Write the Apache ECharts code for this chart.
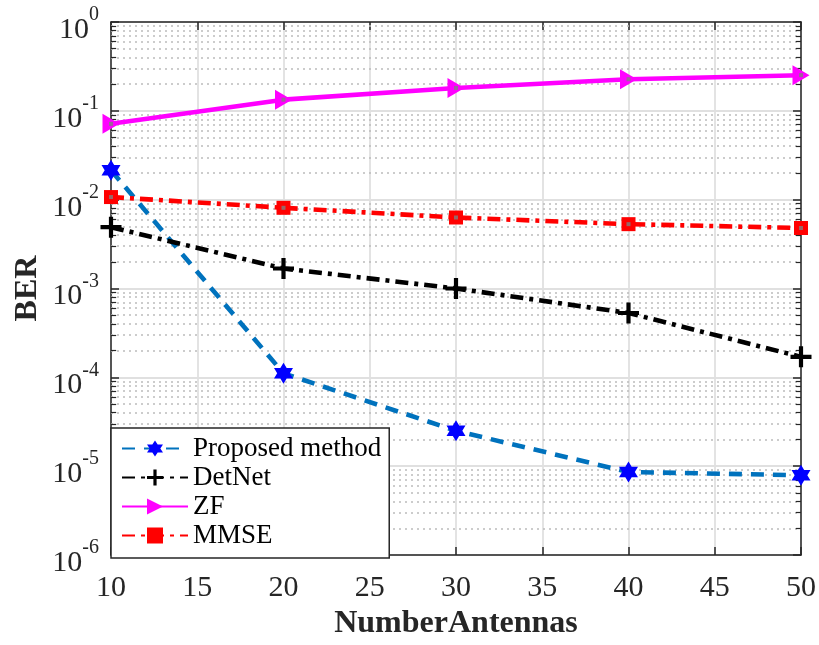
<!DOCTYPE html>
<html>
<head>
<meta charset="utf-8">
<script src="https://cdn.jsdelivr.net/npm/echarts@6/dist/echarts.min.js"></script>
<style>html,body{margin:0;padding:0;background:#fff}#c{width:819px;height:645px}</style>
</head>
<body>
<div id="c"></div>
<script>
const xValues = [10, 20, 30, 40, 50];
const proposed = [0.0214, 1.11e-4, 2.5e-5, 8.6e-6, 7.9e-6];
const detnet = [0.0049, 0.00168, 0.0010, 0.00053, 0.00017];
const zf = [0.0714, 0.1336, 0.181, 0.227, 0.252];
const mmse = [0.0107, 0.0081, 0.0063, 0.0053, 0.0048];
const seriesNames = ['Proposed method', 'DetNet', 'ZF', 'MMSE'];

const FONT = '"Liberation Serif", "Times New Roman", serif';
const AX = '#262626';

function pairs(ys) { return xValues.map((x, i) => [x, ys[i]]); }

// minor grid positions (2..9 x decade)
const minorVals = [];
for (let e = -6; e < 0; e++) for (let m = 2; m <= 9; m++) minorVals.push(m * Math.pow(10, e));

const minorGridLines = minorVals.map(v => [{coord: [10, v]}, {coord: [50, v]}]);
const minorTickLines = [];
minorVals.forEach(v => {
  minorTickLines.push([{coord: [10, v]}, {coord: [10.3, v]}]);
  minorTickLines.push([{coord: [49.7, v]}, {coord: [50, v]}]);
});

const star = 'path://M0,-10 L2.887,-5 L8.66,-5 L5.774,0 L8.66,5 L2.887,5 L0,10 L-2.887,5 L-8.66,5 L-5.774,0 L-8.66,-5 L-2.887,-5 Z';
const plus = 'path://M-1.6,-8 H1.6 V-1.6 H8 V1.6 H1.6 V8 H-1.6 V1.6 H-8 V-1.6 H-1.6 Z';
const triR = 'path://M0,0 L10,5 L0,10 Z';

const chart = echarts.init(document.getElementById('c'), null, {renderer: 'canvas'});

const yLabel = {
  show: true,
  fontFamily: FONT,
  color: AX,
  margin: 12,
  formatter: function (v) {
    const e = Math.round(Math.log10(v));
    return '{b|10}{s|' + e + '}';
  },
  rich: {
    b: {fontSize: 30, fontFamily: FONT, color: AX, padding: [16, 0, 0, 0]},
    s: {fontSize: 20, fontFamily: FONT, color: AX, padding: [0, 0, 14, 0]}
  }
};

const LW = 4.6;

chart.setOption({
  animation: false,
  backgroundColor: '#fff',
  grid: {left: 111, right: 18, top: 22, bottom: 88, containLabel: false},
  legend: {
    data: seriesNames,
    orient: 'vertical',
    left: 111,
    top: 428,
    z: 20,
    padding: [7, 8, 9, 10],
    itemGap: 2,
    itemWidth: 66,
    itemHeight: 20,
    backgroundColor: '#fff',
    borderColor: AX,
    borderWidth: 1.5,
    textStyle: {fontFamily: FONT, fontSize: 27, color: '#000', padding: [0, 0, 0, 0]}
  },
  xAxis: [{
    type: 'value', min: 10, max: 50, interval: 5,
    position: 'bottom',
    name: 'NumberAntennas', nameLocation: 'middle', nameGap: 53, nameMoveOverlap: false,
    nameTextStyle: {fontFamily: FONT, fontSize: 32, fontWeight: 'bold', color: AX},
    axisLine: {show: true, lineStyle: {color: AX, width: 1.5}},
    axisTick: {show: true, inside: true, length: 8, lineStyle: {color: AX, width: 1.5}},
    axisLabel: {fontFamily: FONT, fontSize: 30, color: AX, margin: 18},
    splitLine: {show: true, lineStyle: {color: '#e0e0e0', width: 1.8}}
  }, {
    type: 'value', min: 10, max: 50, interval: 5,
    position: 'top',
    axisLine: {show: true, lineStyle: {color: AX, width: 1.5}},
    axisTick: {show: true, inside: true, length: 8, lineStyle: {color: AX, width: 1.5}},
    axisLabel: {show: false},
    splitLine: {show: false}
  }],
  yAxis: [{
    type: 'log', logBase: 10, min: 1e-6, max: 1,
    position: 'left',
    name: 'BER', nameLocation: 'middle', nameGap: 67, nameMoveOverlap: false,
    nameTextStyle: {fontFamily: FONT, fontSize: 32, fontWeight: 'bold', color: AX},
    axisLine: {show: true, lineStyle: {color: AX, width: 1.5}},
    axisTick: {show: true, inside: true, length: 8, lineStyle: {color: AX, width: 1.5}},
    axisLabel: yLabel,
    splitLine: {show: true, lineStyle: {color: '#e0e0e0', width: 1.8}}
  }, {
    type: 'log', logBase: 10, min: 1e-6, max: 1,
    position: 'right',
    axisLine: {show: true, lineStyle: {color: AX, width: 1.5}},
    axisTick: {show: true, inside: true, length: 8, lineStyle: {color: AX, width: 1.5}},
    axisLabel: {show: false},
    splitLine: {show: false}
  }],
  series: [
    {
      name: 'minorGrid', type: 'line', data: [], z: 1, silent: true,
      markLine: {
        silent: true, symbol: 'none', animation: false, z: 1,
        label: {show: false},
        lineStyle: {color: '#bcbcbc', type: [2, 4], width: 1.6},
        data: minorGridLines
      }
    },
    {
      name: 'minorTicks', type: 'line', data: [], z: 1, silent: true,
      markLine: {
        silent: true, symbol: 'none', animation: false, z: 1,
        label: {show: false},
        lineStyle: {color: AX, type: 'solid', width: 1.2},
        data: minorTickLines
      }
    },
    {
      name: 'Proposed method', type: 'line', data: pairs(proposed), z: 5,
      lineStyle: {color: '#0072BD', width: LW, type: [13, 9]},
      itemStyle: {color: '#0000FF', borderWidth: 0},
      symbol: star, symbolSize: [19, 21], showAllSymbol: true
    },
    {
      name: 'DetNet', type: 'line', data: pairs(detnet), z: 5,
      lineStyle: {color: '#000', width: LW, type: [13, 6, 4, 6]},
      itemStyle: {color: '#000', borderWidth: 0},
      symbol: plus, symbolSize: 21, showAllSymbol: true
    },
    {
      name: 'ZF', type: 'line', data: pairs(zf), z: 5,
      lineStyle: {color: '#FF00FF', width: LW, type: 'solid'},
      itemStyle: {color: '#FF00FF', borderWidth: 0},
      symbol: triR, symbolSize: [17, 20], showAllSymbol: true
    },
    {
      name: 'MMSE', type: 'line', data: pairs(mmse), z: 5,
      lineStyle: {color: '#FF0000', width: LW, type: [13, 6, 4, 6]},
      itemStyle: {color: '#FF0000', borderWidth: 0},
      symbol: 'rect', symbolSize: 14, showAllSymbol: true
    },
    {
      name: 'zfDots', type: 'scatter', data: pairs(zf), z: 6, silent: true,
      symbol: 'rect', symbolSize: 4, itemStyle: {color: '#808080'}
    },
    {
      name: 'mmseDots', type: 'scatter', data: pairs(mmse), z: 6, silent: true,
      symbol: 'rect', symbolSize: 4, itemStyle: {color: '#808080'}
    }
  ]
});
</script>
</body>
</html>
